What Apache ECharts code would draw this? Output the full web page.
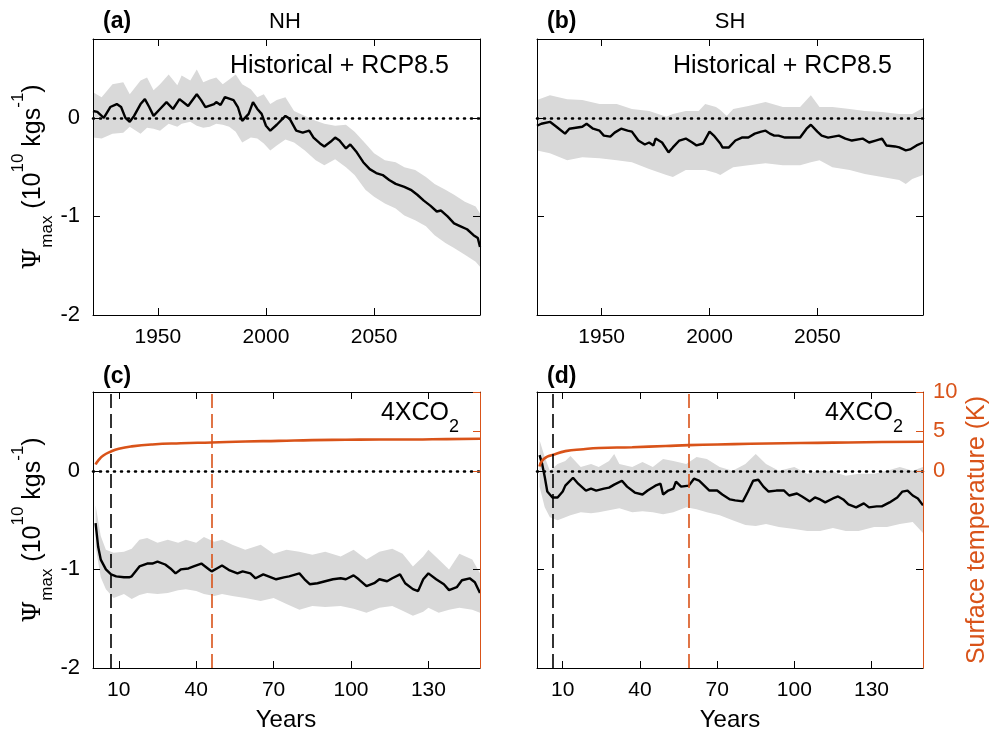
<!DOCTYPE html>
<html>
<head>
<meta charset="utf-8">
<script src="https://cdn.jsdelivr.net/npm/echarts@6/dist/echarts.min.js"></script>
<style>
  html, body { margin: 0; padding: 0; background: #fff; }
  #chart { width: 1002px; height: 733px; }
</style>
</head>
<body>
<div id="chart"></div>
<script>
// (a) NH, historical + RCP8.5
const aYears = [1920,1922,1925,1928,1931,1933,1935,1937,1939,1942,1944,1946,1948,1951,1954,1957,1960,1964,1968,1970,1972,1976,1977,1979,1981,1985,1987,1989,1992,1994,1996,1998,2000,2002,2005,2009,2011,2014,2017,2020,2022,2025,2027,2030,2032,2034,2037,2039,2042,2045,2048,2051,2054,2057,2060,2064,2067,2070,2073,2076,2079,2081,2084,2087,2090,2093,2096,2098,2099];
const aMean = [0.07,0.06,0.0,0.11,0.14,0.11,0.0,-0.04,0.02,0.14,0.19,0.11,0.02,0.09,0.16,0.09,0.19,0.12,0.24,0.18,0.11,0.14,0.16,0.13,0.21,0.18,0.11,-0.03,0.04,0.16,0.09,0.04,-0.08,-0.13,-0.07,0.02,-0.01,-0.13,-0.15,-0.13,-0.2,-0.26,-0.29,-0.24,-0.2,-0.23,-0.31,-0.27,-0.35,-0.45,-0.52,-0.56,-0.58,-0.63,-0.67,-0.7,-0.73,-0.78,-0.84,-0.89,-0.95,-0.94,-1.0,-1.07,-1.1,-1.13,-1.19,-1.22,-1.31];
const aBandYears = [1920,1924,1929,1934,1937,1942,1945,1948,1951,1955,1959,1961,1965,1968,1971,1974,1977,1980,1983,1986,1989,1993,1996,1999,2002,2005,2009,2013,2018,2023,2027,2032,2037,2041,2046,2050,2055,2060,2064,2069,2074,2078,2083,2087,2092,2097,2099];
const aUpper = [0.26,0.21,0.34,0.36,0.24,0.38,0.41,0.28,0.34,0.44,0.33,0.43,0.38,0.49,0.36,0.39,0.41,0.34,0.39,0.44,0.34,0.29,0.21,0.24,0.14,0.18,0.21,0.07,0.02,-0.03,-0.06,-0.08,-0.07,-0.14,-0.26,-0.36,-0.43,-0.45,-0.5,-0.53,-0.6,-0.67,-0.73,-0.78,-0.85,-0.9,-0.97];
const aLower = [-0.2,-0.21,-0.16,-0.15,-0.09,-0.16,-0.1,-0.11,-0.13,-0.06,-0.09,-0.06,-0.04,-0.08,-0.1,-0.09,-0.06,-0.07,-0.09,-0.14,-0.25,-0.2,-0.21,-0.26,-0.33,-0.28,-0.22,-0.25,-0.33,-0.43,-0.48,-0.42,-0.5,-0.58,-0.73,-0.8,-0.87,-0.92,-0.99,-1.04,-1.1,-1.19,-1.27,-1.32,-1.39,-1.46,-1.51];

// (b) SH, historical + RCP8.5
const bYears = [1920,1922,1926,1929,1933,1935,1938,1941,1943,1946,1949,1951,1954,1956,1959,1962,1964,1967,1970,1972,1974,1975,1978,1981,1983,1986,1989,1992,1994,1997,2000,2002,2005,2006,2009,2012,2015,2018,2021,2024,2026,2028,2030,2032,2035,2038,2042,2045,2047,2050,2052,2055,2060,2063,2066,2071,2074,2077,2080,2082,2086,2088,2091,2093,2096,2098,2099];
const bMean = [-0.08,-0.06,-0.04,-0.09,-0.16,-0.11,-0.1,-0.09,-0.06,-0.11,-0.13,-0.18,-0.19,-0.15,-0.11,-0.13,-0.14,-0.23,-0.27,-0.25,-0.28,-0.21,-0.25,-0.35,-0.3,-0.23,-0.21,-0.25,-0.28,-0.26,-0.14,-0.18,-0.26,-0.3,-0.3,-0.23,-0.2,-0.2,-0.16,-0.14,-0.13,-0.16,-0.18,-0.18,-0.2,-0.2,-0.2,-0.11,-0.07,-0.14,-0.18,-0.2,-0.18,-0.21,-0.23,-0.21,-0.25,-0.23,-0.21,-0.28,-0.29,-0.3,-0.33,-0.32,-0.28,-0.26,-0.25];
const bBandYears = [1920,1926,1934,1941,1949,1957,1964,1972,1980,1983,1989,1995,1998,2003,2005,2008,2011,2018,2026,2034,2042,2047,2051,2057,2065,2072,2080,2088,2091,2094,2099];
const bUpper = [0.18,0.23,0.19,0.18,0.14,0.14,0.09,0.07,0.01,0.04,0.07,0.07,0.14,0.11,0.08,0.02,0.09,0.12,0.16,0.11,0.11,0.23,0.11,0.11,0.09,0.07,0.06,0.04,0.04,0.04,0.1];
const bLower = [-0.33,-0.36,-0.43,-0.4,-0.41,-0.43,-0.45,-0.52,-0.58,-0.6,-0.53,-0.53,-0.53,-0.56,-0.58,-0.54,-0.5,-0.48,-0.46,-0.48,-0.48,-0.45,-0.43,-0.5,-0.53,-0.57,-0.6,-0.63,-0.67,-0.62,-0.58];

// (c) NH, 4xCO2
const cYears = [1,2,3,5,7,9,12,14,15,18,21,23,25,28,30,32,34,37,39,42,45,46,48,50,53,56,58,61,63,66,68,71,74,76,80,82,84,87,90,93,96,98,101,103,106,109,111,114,116,119,121,124,126,128,130,133,136,138,141,143,146,148,150];
const cMean = [-0.53,-0.77,-0.9,-1.0,-1.05,-1.07,-1.08,-1.08,-1.07,-0.97,-0.94,-0.94,-0.92,-0.95,-0.99,-1.04,-1.0,-0.99,-0.97,-0.94,-1.0,-1.02,-0.99,-0.96,-1.01,-1.04,-1.02,-1.04,-1.09,-1.05,-1.07,-1.1,-1.08,-1.07,-1.04,-1.1,-1.15,-1.14,-1.12,-1.1,-1.09,-1.1,-1.06,-1.1,-1.17,-1.14,-1.1,-1.12,-1.09,-1.05,-1.14,-1.2,-1.22,-1.1,-1.04,-1.1,-1.15,-1.21,-1.18,-1.11,-1.09,-1.13,-1.24];
const cBandYears = [1,3,5,8,12,15,18,21,25,29,33,36,40,43,47,50,54,59,65,70,75,80,85,90,96,101,106,111,116,120,124,128,130,134,138,142,147,150];
const cUpper = [-0.35,-0.66,-0.8,-0.83,-0.82,-0.79,-0.7,-0.68,-0.73,-0.7,-0.73,-0.7,-0.73,-0.67,-0.72,-0.7,-0.75,-0.8,-0.75,-0.84,-0.8,-0.82,-0.85,-0.82,-0.87,-0.8,-0.9,-0.82,-0.79,-0.84,-0.97,-0.87,-0.8,-0.9,-1.0,-0.84,-0.9,-1.04];
const cLower = [-0.77,-1.08,-1.2,-1.29,-1.25,-1.3,-1.26,-1.24,-1.25,-1.24,-1.21,-1.2,-1.22,-1.25,-1.27,-1.25,-1.27,-1.29,-1.32,-1.29,-1.35,-1.41,-1.37,-1.38,-1.37,-1.4,-1.44,-1.39,-1.37,-1.42,-1.47,-1.43,-1.39,-1.44,-1.41,-1.39,-1.41,-1.44];
const cTempYears = [1,2,4,7,10,15,23,34,46,59,72,85,98,111,124,137,150];
const cTemp = [0.8,1.3,1.95,2.46,2.8,3.1,3.35,3.5,3.6,3.73,3.8,3.9,3.94,3.98,3.98,4.03,4.07];
const cMarkers = [7, 46];

// (d) SH, 4xCO2
const dYears = [1,2,3,4,6,8,10,11,14,16,19,21,23,26,28,30,33,35,38,41,43,46,48,49,51,53,54,56,59,61,63,65,67,70,72,75,77,80,82,84,86,88,90,93,96,98,101,103,106,108,110,112,115,117,119,121,124,127,129,132,134,137,140,142,144,146,148,150];
const dMean = [0.16,0.07,-0.06,-0.21,-0.27,-0.27,-0.21,-0.15,-0.07,-0.13,-0.2,-0.18,-0.2,-0.18,-0.17,-0.14,-0.1,-0.16,-0.22,-0.24,-0.2,-0.15,-0.13,-0.24,-0.2,-0.18,-0.11,-0.16,-0.15,-0.08,-0.1,-0.15,-0.2,-0.2,-0.24,-0.29,-0.3,-0.31,-0.21,-0.1,-0.09,-0.16,-0.21,-0.2,-0.2,-0.25,-0.23,-0.26,-0.31,-0.27,-0.29,-0.32,-0.28,-0.26,-0.29,-0.34,-0.37,-0.33,-0.37,-0.36,-0.36,-0.32,-0.27,-0.21,-0.2,-0.25,-0.28,-0.35];
const dBandYears = [1,3,5,8,11,13,17,21,24,28,30,32,37,41,45,49,53,58,62,66,71,76,81,85,89,94,100,105,110,115,120,125,131,136,141,146,150];
const dUpper = [0.31,0.14,0.0,0.07,0.1,0.15,0.04,0.07,0.04,0.1,0.17,0.07,0.04,0.09,0.04,0.12,0.1,0.07,0.14,0.12,0.04,0.0,0.07,0.17,0.07,0.0,0.04,-0.03,0.0,-0.01,-0.05,-0.03,-0.03,0.0,0.04,0.0,0.04];
const dLower = [-0.16,-0.37,-0.47,-0.5,-0.47,-0.45,-0.42,-0.43,-0.42,-0.4,-0.39,-0.38,-0.42,-0.41,-0.42,-0.44,-0.42,-0.37,-0.39,-0.42,-0.45,-0.5,-0.55,-0.56,-0.54,-0.57,-0.59,-0.61,-0.61,-0.58,-0.61,-0.61,-0.57,-0.57,-0.54,-0.52,-0.63];
const dTempYears = [1,2,4,6,11,18,24,37,50,59,70,83,96,109,121,134,150];
const dTemp = [0.55,1.3,1.8,2.0,2.5,2.75,2.9,3.0,3.15,3.26,3.35,3.43,3.5,3.55,3.6,3.65,3.7];
const dMarkers = [6, 59];

// ticks
const histTicks = [1950, 2000, 2050];
const yearTicks = [10, 40, 70, 100, 130];
const psiTicks = [-2, -1, 0];
const tempTicks = [0, 5, 10];

const ORANGE = '#D95319';
const GREY = '#D9D9D9';
const FONT = '"Liberation Sans", Arial, sans-serif';

const zip = (xs, ys) => xs.map((x, i) => [x, ys[i]]);
const plain = v => String(v);

const grids = [
  { left: 93, top: 39, width: 387, height: 276 },
  { left: 537, top: 39, width: 386, height: 276 },
  { left: 93, top: 392, width: 387, height: 276 },
  { left: 537, top: 392, width: 386, height: 276 }
];

function makeX(g, min, max, ticks, pos) {
  return {
    type: 'value', gridIndex: g, position: pos, min: min, max: max, z: 5,
    axisLine: { show: true, onZero: false, lineStyle: { color: '#000', width: 1 } },
    axisTick: { show: true, inside: true, length: 7, customValues: ticks, lineStyle: { color: '#000' } },
    axisLabel: { show: pos === 'bottom', customValues: ticks, formatter: plain, margin: 12, color: '#000', fontSize: 21, fontFamily: FONT },
    splitLine: { show: false }
  };
}

function makeY(g, pos, opt) {
  return {
    type: 'value', gridIndex: g, position: pos, min: opt.min, max: opt.max, z: 5,
    axisLine: { show: opt.line !== false, onZero: false, lineStyle: { color: opt.color || '#000', width: 1 } },
    axisTick: { show: true, inside: true, length: 7, customValues: opt.ticks, lineStyle: { color: opt.color || '#000' } },
    axisLabel: { show: !!opt.labels, customValues: opt.ticks, formatter: plain, margin: opt.margin || 12, color: opt.color || '#000', fontSize: 22, fontFamily: FONT },
    splitLine: { show: false }
  };
}

const xAxes = [];
const yAxes = [];
[0, 1, 2, 3].forEach(g => {
  const hist = g < 2;
  const xmin = hist ? 1920 : 0, xmax = hist ? 2099 : 150;
  const ticks = hist ? histTicks : yearTicks;
  xAxes.push(makeX(g, xmin, xmax, ticks, 'bottom'));
  xAxes.push(makeX(g, xmin, xmax, ticks, 'top'));
  yAxes.push(makeY(g, 'left', { min: -2, max: 0.8, ticks: psiTicks, labels: g % 2 === 0, margin: 13 }));
  yAxes.push(makeY(g, 'right', { min: -2, max: 0.8, ticks: psiTicks, line: hist }));
  if (!hist) {
    yAxes.push(makeY(g, 'right', { min: -25, max: 10, ticks: tempTicks, color: ORANGE, labels: g === 3, margin: 10 }));
  }
});
// y axis indices: left psi of each grid, temperature axes of c and d
const psiY = [0, 2, 4, 7];
const tempY = { 2: 6, 3: 9 };

function bandSeries(g, xs, up, lo) {
  return {
    type: 'custom', xAxisIndex: g * 2, yAxisIndex: psiY[g], silent: true, z: 1,
    data: [[xs[0], up[0]]],
    renderItem: function (params, api) {
      const pts = [];
      for (let i = 0; i < xs.length; i++) pts.push(api.coord([xs[i], up[i]]));
      for (let i = xs.length - 1; i >= 0; i--) pts.push(api.coord([xs[i], lo[i]]));
      return { type: 'polygon', shape: { points: pts }, style: { fill: GREY } };
    }
  };
}

function dotted() {
  return { yAxis: 0, lineStyle: { color: '#000', type: [1, 6], width: 2.6, cap: 'round' } };
}

function meanSeries(g, xs, ys, markers) {
  const marks = [dotted()];
  if (markers) {
    marks.push({ xAxis: markers[0], lineStyle: { color: '#000', type: [14, 6], width: 1.6 } });
    marks.push({ xAxis: markers[1], lineStyle: { color: ORANGE, type: [14, 6], width: 1.6 } });
  }
  return {
    type: 'line', xAxisIndex: g * 2, yAxisIndex: psiY[g], z: 3,
    data: zip(xs, ys), showSymbol: false, symbol: 'none',
    lineStyle: { color: '#000', width: 2.4 },
    markLine: { silent: true, symbol: ['none', 'none'], label: { show: false }, data: marks }
  };
}

function tempSeries(g, xs, ys) {
  return {
    type: 'line', xAxisIndex: g * 2, yAxisIndex: tempY[g], z: 4,
    data: zip(xs, ys), showSymbol: false, symbol: 'none', smooth: true,
    lineStyle: { color: ORANGE, width: 2.6 }
  };
}

const series = [
  bandSeries(0, aBandYears, aUpper, aLower),
  meanSeries(0, aYears, aMean),
  bandSeries(1, bBandYears, bUpper, bLower),
  meanSeries(1, bYears, bMean),
  bandSeries(2, cBandYears, cUpper, cLower),
  meanSeries(2, cYears, cMean, cMarkers),
  tempSeries(2, cTempYears, cTemp),
  bandSeries(3, dBandYears, dUpper, dLower),
  meanSeries(3, dYears, dMean, dMarkers),
  tempSeries(3, dTempYears, dTemp)
];

function label(text, x, y, size, opts) {
  opts = opts || {};
  return {
    type: 'text', x: x, y: y, rotation: opts.rotation || 0, z: 10,
    style: {
      text: text, fill: opts.color || '#000', fontSize: size, fontFamily: FONT,
      fontWeight: opts.bold ? 'bold' : 'normal',
      align: opts.align || 'left', verticalAlign: 'middle', rich: opts.rich
    }
  };
}

const psiRich = {
  p: { fontSize: 25, fontFamily: '"DejaVu Serif", serif', lineHeight: 46, fill: '#000' },
  m: { fontSize: 25, fontFamily: FONT, lineHeight: 46, fill: '#000' },
  sup: { fontSize: 17, fontFamily: FONT, lineHeight: 16, verticalAlign: 'top', fill: '#000' },
  sub: { fontSize: 17, fontFamily: FONT, lineHeight: 6, verticalAlign: 'bottom', fill: '#000' }
};
const psiText = '{p|Ψ}{sub|max}{m| (10}{sup|10}{m| kgs}{sup|-1}{m|)}';
const co2Rich = {
  m: { fontSize: 25, fontFamily: FONT, lineHeight: 46, fill: '#000' },
  s: { fontSize: 18, fontFamily: FONT, lineHeight: 18, verticalAlign: 'bottom', fill: '#000' }
};
const co2Text = '{m|4XCO}{s|2}';

const texts = [
  label('(a)', 103, 22, 23, { bold: true }),
  label('NH', 285, 22, 22, { align: 'center' }),
  label('(b)', 547, 22, 23, { bold: true }),
  label('SH', 730, 22, 22, { align: 'center' }),
  label('(c)', 103, 377, 23, { bold: true }),
  label('(d)', 547, 377, 23, { bold: true }),
  label('Historical + RCP8.5', 230, 66, 25),
  label('Historical + RCP8.5', 673, 66, 25),
  label(co2Text, 459, 413, 25, { align: 'right', rich: co2Rich }),
  label(co2Text, 903, 413, 25, { align: 'right', rich: co2Rich }),
  label(psiText, 33, 177, 25, { align: 'center', rotation: Math.PI / 2, rich: psiRich }),
  label(psiText, 33, 530, 25, { align: 'center', rotation: Math.PI / 2, rich: psiRich }),
  label('Surface temperature (K)', 977, 530, 25, { align: 'center', rotation: Math.PI / 2, color: ORANGE }),
  label('Years', 286, 720, 24, { align: 'center' }),
  label('Years', 730, 720, 24, { align: 'center' })
];

const chart = echarts.init(document.getElementById('chart'));
chart.setOption({
  animation: false,
  backgroundColor: '#fff',
  grid: grids,
  xAxis: xAxes,
  yAxis: yAxes,
  series: series,
  graphic: texts
});
</script>
</body>
</html>
